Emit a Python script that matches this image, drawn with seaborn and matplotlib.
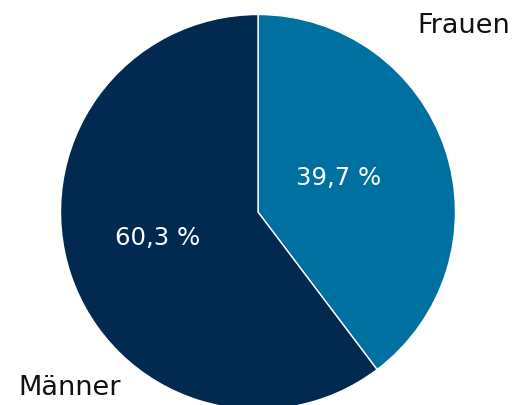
import matplotlib.pyplot as plt
import seaborn as sns

sns.set_style("white")
plt.rcParams["font.family"] = ["DejaVu Sans"]

# data
categories = ["Frauen", "Männer"]
shares = [39.7, 60.3]
colors = ["#0070a0", "#022a50"]

# label placement (data coords, pie radius = 1)
label_pos = [(1.276, 0.947, "right"), (-1.215, -0.886, "left")]
pct_pos = [(0.408, 0.177), (-0.509, -0.127)]

fig = plt.figure(figsize=(5.16, 4.06), dpi=100)
ax = fig.add_axes([0, 0, 1, 1])

ax.pie(
    shares,
    colors=colors,
    startangle=90,
    counterclock=False,
    radius=1,
    wedgeprops={"edgecolor": "white", "linewidth": 1},
)

# category labels
for name, (x, y, ha) in zip(categories, label_pos):
    ax.text(x, y, name, ha=ha, va="center", fontsize=19.5, color="#111111")

# percent labels
for val, (x, y) in zip(shares, pct_pos):
    ax.text(x, y, f"{val:.1f} %".replace(".", ","), ha="center", va="center",
            fontsize=17.6, color="white")

ax.set_xlim(-258 / 197.5, 258 / 197.5)
ax.set_ylim(-193 / 197.5, 213 / 197.5)
ax.set_aspect("equal")
ax.axis("off")

fig.savefig("out.png", dpi=100)
